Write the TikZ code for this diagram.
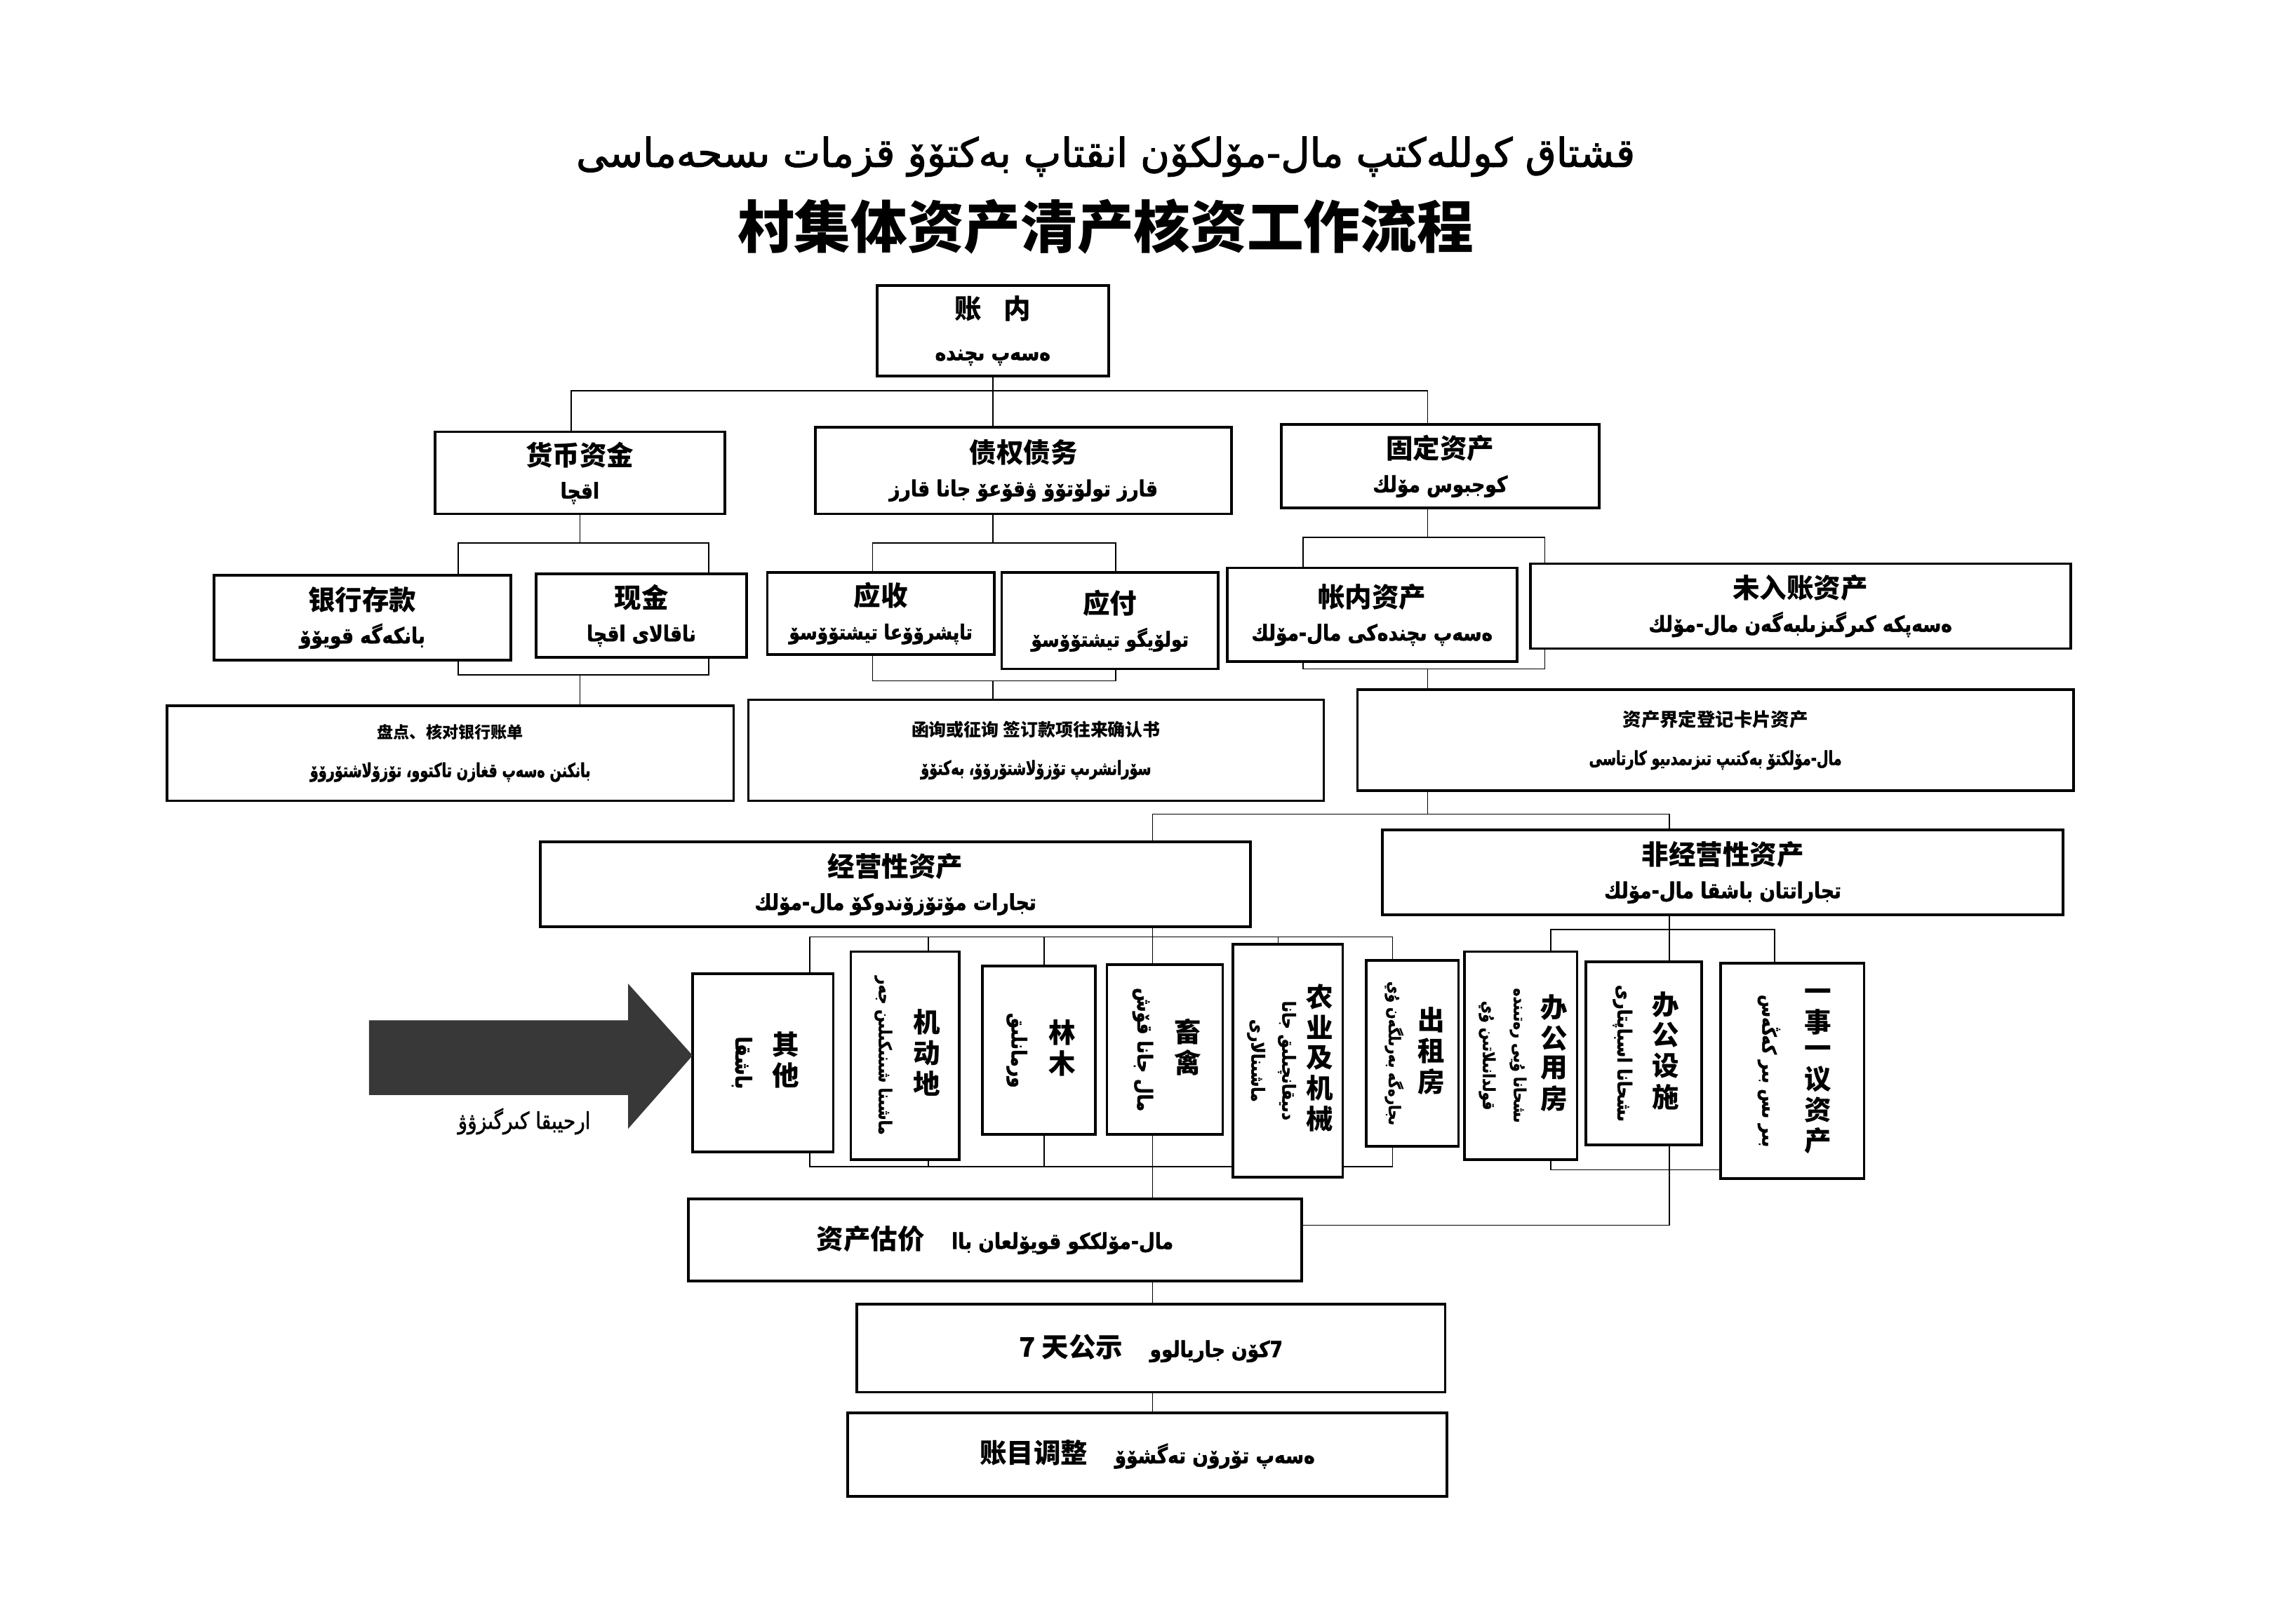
\documentclass[tikz,border=0pt]{standalone}
\usepackage{fontspec}
\usepackage{graphicx}
\usetikzlibrary{backgrounds}
\newfontfamily\cjk{Noto Sans CJK SC}
\newfontfamily\ug[Script=Arabic,FakeBold=1.5,FakeStretch=0.85]{DejaVu Sans}
\newfontfamily\ugc[Script=Arabic,FakeBold=1.5,FakeStretch=0.7]{DejaVu Sans}
\newfontfamily\ugt[Script=Arabic,FakeBold=2]{DejaVu Sans}
\TeXXeTstate=1
\newcommand{\uy}[2][8.5]{{\ug\fontsize{#1}{12}\selectfont\beginR #2\endR}}
\newcommand{\uyc}[2][7.5]{{\ugc\fontsize{#1}{12}\selectfont\beginR #2\endR}}
\newcommand{\vmid}[1]{$\vcenter{\hbox{#1}}$}
\newcommand{\vstack}[1]{{\renewcommand\arraystretch{0.85}\begin{tabular}{@{}c@{}}#1\end{tabular}}}
\newcommand{\ucol}[1]{\rotatebox{-90}{\begin{tabular}{@{}c@{}}#1\end{tabular}}}

\begin{document}
\begin{tikzpicture}[x=0.02cm,y=-0.02cm,
  box/.style={draw,line width=1pt,fill=white,align=center,inner sep=1pt},
  vbox/.style={draw,line width=1pt,fill=white,inner sep=0pt,font=\cjk\bfseries\fontsize{10.5}{12}\selectfont},
  bsize/.style 2 args={minimum width=#1*0.02cm,minimum height=#2*0.02cm},
  zh/.style={font=\cjk\bfseries\fontsize{10.5}{13}\selectfont},
  zhs/.style={font=\cjk\bfseries\fontsize{#1}{9}\selectfont},
  link/.style={line width=0.75pt}]
\useasboundingbox (0,0) rectangle (1568,1095);

\node (tug) at (755,107) {{\ugt\fontsize{15.5}{18}\selectfont\beginR قشتاق كوللەكتپ مال-مۆلكۆن انقتاپ بەكتۆۆ قزمات ىسحەماسى\endR}};
\node[font=\cjk\bfseries\fontsize{22}{26}\selectfont] (tzh) at (755,155) {村集体资产清产核资工作流程};

\node[box,bsize={158}{62},zh] (zn) at (678,226) {账\hspace{0.8em}内\\[3pt]\uy{ەسەپ ىچندە}};
\node[box,bsize={198}{56},zh] (hb) at (396,323) {货币资金\\\uy{اقچا}};
\node[box,bsize={284}{59},zh] (zq) at (699,321.5) {债权债务\\\uy{قارز تولۆتۆۆ ۋقۆعۆ جانا قارز}};
\node[box,bsize={217}{57},zh] (gz) at (983.5,318.5) {固定资产\\\uy{كوجبوس مۆلك}};

\node[box,bsize={203}{58},zh] (ck) at (247.5,422) {银行存款\\\uy{بانكەگە قويۆۆ}};
\node[box,bsize={144}{57},zh] (xj) at (438,420.5) {现金\\\uy{ناقالاى اقچا}};
\node[box,bsize={155}{56},zh] (ys) at (601.5,419) {应收\\\uy[8]{تاپشرۆۆعا تيشتۆۆسۆ}};
\node[box,bsize={148}{66},zh] (yf) at (758,424) {应付\\\uy[8]{تولۆيگو تيشتۆۆسۆ}};
\node[box,bsize={198}{64},zh] (zz) at (937,420) {帐内资产\\\uy{ەسەپ ىچندەكى مال-مۆلك}};
\node[box,bsize={369}{58},zh] (wr) at (1229.5,414) {未入账资产\\\uy{ەسەپكە كىرگىزىلبەگەن مال-مۆلك}};

\node[box,bsize={387}{65},zhs=6.3] (pd) at (307.5,514.5) {盘点、核对银行账单\\[6pt]\uyc{بانكنن ەسەپ قغازن تاكتوو، تۆزۆلاشتۆرۆۆ}};
\node[box,bsize={393}{69},zhs=6.8] (hx) at (707.5,512.5) {函询或征询 签订款项往来确认书\\[6pt]\uyc{سۆرانشرىپ تۆزۆلاشتۆرۆۆ، بەكتۆۆ}};
\node[box,bsize={489}{69},zhs=7.2] (jd) at (1171.5,505.5) {资产界定登记卡片资产\\[6pt]\uyc{مال-مۆلكتۆ بەكتىپ تىزىمدىيو كارتاسى}};

\node[box,bsize={485}{58},zh] (jy) at (611.5,604) {经营性资产\\\uy{تجارات مۆتۆزۆندوكۆ مال-مۆلك}};
\node[box,bsize={465}{58},zh] (fj) at (1176.5,596) {非经营性资产\\\uy{تجاراتتان باشقا مال-مۆلك}};

\node[vbox,bsize={96}{122}] (qt) at (521,726) {\vmid{\ucol{\uy[8.5]{باشقا}}}\hspace{6pt}\vmid{\vstack{其\\他}}};
\node[vbox,bsize={74}{142}] (jdd) at (618,721) {\vmid{\ucol{\uy[6.8]{ماشىنا شىنىكىلىن جەر}}}\hspace{5pt}\vmid{\vstack{机\\动\\地}}};
\node[vbox,bsize={77}{115}] (lm) at (709.5,717.5) {\vmid{\ucol{\uy[8]{ورمانلىق}}}\hspace{6pt}\vmid{\vstack{林\\木}}};
\node[vbox,bsize={79}{116}] (xq) at (795.5,717) {\vmid{\ucol{\uy[8]{مال جانا قۆش}}}\hspace{6pt}\vmid{\vstack{畜\\禽}}};
\node[vbox,bsize={75}{159}] (ny) at (879.5,724.5) {\vmid{\ucol{\uy[7]{دىيقانچىلىق جانا}\\\uy[7]{ماشىنالارى}}}\hspace{1pt}\vmid{\vstack{农\\业\\及\\机\\械}}};
\node[vbox,bsize={63}{127}] (cz) at (964.5,719.5) {\vmid{\ucol{\uy[6.3]{ىجارەگە بەرىلگەن ۇي}}}\hspace{3pt}\vmid{\vstack{出\\租\\房}}};
\node[vbox,bsize={77}{142}] (bf) at (1038.5,721) {\vmid{\ucol{\uy[6.5]{ىشحانا ۇيى رەتىندە}\\\uy[6.5]{قولدانىلاتىن ۇي}}}\hspace{2pt}\vmid{\vstack{办\\公\\用\\房}}};
\node[vbox,bsize={79}{125}] (bs) at (1122.5,719.5) {\vmid{\ucol{\uy[7.5]{ىشحانا اسباپتارى}}}\hspace{5pt}\vmid{\vstack{办\\公\\设\\施}}};
\node[vbox,bsize={98}{147}] (yy) at (1224,731.5) {\vmid{\ucol{\uy[7.5]{بىر ىس بىر كەڭەس}}}\hspace{8pt}\vmid{\vstack{一\\事\\一\\议\\资\\产}}};

\node[box,bsize={419}{56},zh] (gj) at (679.5,847) {资产估价\hspace{1em}\uy{مال-مۆلككو قويۆلعان باا}};
\node[box,bsize={402}{60},zh] (gs) at (786,921) {7 天公示\hspace{1em}\uy{7كۆن جاريالوو}};
\node[box,bsize={409}{57},zh] (tz) at (783.5,993.5) {账目调整\hspace{1em}\uy{ەسەپ تۆرۆن تەگشۆۆ}};

\fill[black!78] (252,697) -- (429,697) -- (429,672) -- (473,721) -- (429,771) -- (429,748) -- (252,748) -- cycle;
\node (ar) at (358,766) {\uy[9]{ارحيبقا كىرگىزۋۋ}};

\coordinate (t1) at (390,267); \coordinate (t2) at (975,267);
\coordinate (a1) at (313,371); \coordinate (a2) at (484,371);
\coordinate (a3) at (313,461); \coordinate (a4) at (484,461);
\coordinate (b1) at (596,371); \coordinate (b2) at (762,371);
\coordinate (b3) at (596,465); \coordinate (b4) at (762,465);
\coordinate (c1) at (890,367); \coordinate (c2) at (1055,367);
\coordinate (c3) at (890,457); \coordinate (c4) at (1055,457);
\coordinate (d1) at (787,556); \coordinate (d2) at (1140,556);
\coordinate (e1) at (553,640); \coordinate (e2) at (951,640);
\coordinate (f1) at (553,797); \coordinate (f2) at (951,797);
\coordinate (g1) at (1059,635); \coordinate (g2) at (1212,635);
\coordinate (h1) at (1059,799); \coordinate (h2) at (1212,799);
\coordinate (k) at (1140,837);
\foreach \n/\x in {jdd/634,lm/713,ny/873} \coordinate (\n-t) at (\x,640);
\foreach \n/\x in {jdd/634,lm/713} \coordinate (\n-b) at (\x,797);

\begin{scope}[on background layer,link]
\draw (zn.south) -- (zn.south |- zq.north);
\draw (hb.north -| t1) -- (t1) -- (t2) -- (t2 |- gz.north);
\draw (hb.south) -- (hb.south |- a1);
\draw (ck.north -| a1) -- (a1) -- (a2) -- (xj.north -| a2);
\draw (ck.south -| a3) -- (a3) -- (a4) -- (xj.south -| a4);
\draw (hb.south |- a3) -- (hb.south |- pd.north);
\draw (zn.south |- zq.south) -- (zn.south |- b1);
\draw (ys.north -| b1) -- (b1) -- (b2) -- (yf.north -| b2);
\draw (ys.south -| b3) -- (b3) -- (b4) -- (yf.south -| b4);
\draw (zn.south |- b3) -- (zn.south |- hx.north);
\draw (t2 |- gz.south) -- (t2 |- c1);
\draw (zz.north -| c1) -- (c1) -- (c2) -- (wr.north -| c2);
\draw (zz.south -| c3) -- (c3) -- (c4) -- (wr.south -| c4);
\draw (t2 |- c3) -- (t2 |- jd.north);
\draw (t2 |- jd.south) -- (t2 |- d1);
\draw (jy.north -| d1) -- (d1) -- (d2) -- (fj.north -| d2);
\draw (jy.south -| d1) -- (xq.north -| d1);
\draw (qt.north -| e1) -- (e1) -- (e2) -- (cz.north -| e2);
\draw (qt.south -| f1) -- (f1) -- (f2) -- (cz.south -| f2);
\foreach \n in {jdd,lm,ny} \draw (\n-t) -- (\n-t |- \n.north);
\foreach \n in {jdd,lm} \draw (\n-b) -- (\n-b |- \n.south);
\draw (xq.south -| d1) -- (gj.north -| d1);
\draw (fj.south -| d2) -- (bs.north -| d2);
\draw (bf.north -| g1) -- (g1) -- (g2) -- (yy.north -| g2);
\draw (bf.south -| h1) -- (h1) -- (h2) -- (yy.south -| h2);
\draw (bs.south -| k) -- (k) -- (k -| gj.east);
\draw (gj.south -| d1) -- (gs.north -| d1);
\draw (gs.south -| d1) -- (tz.north -| d1);
\end{scope}
\end{tikzpicture}
\end{document}
